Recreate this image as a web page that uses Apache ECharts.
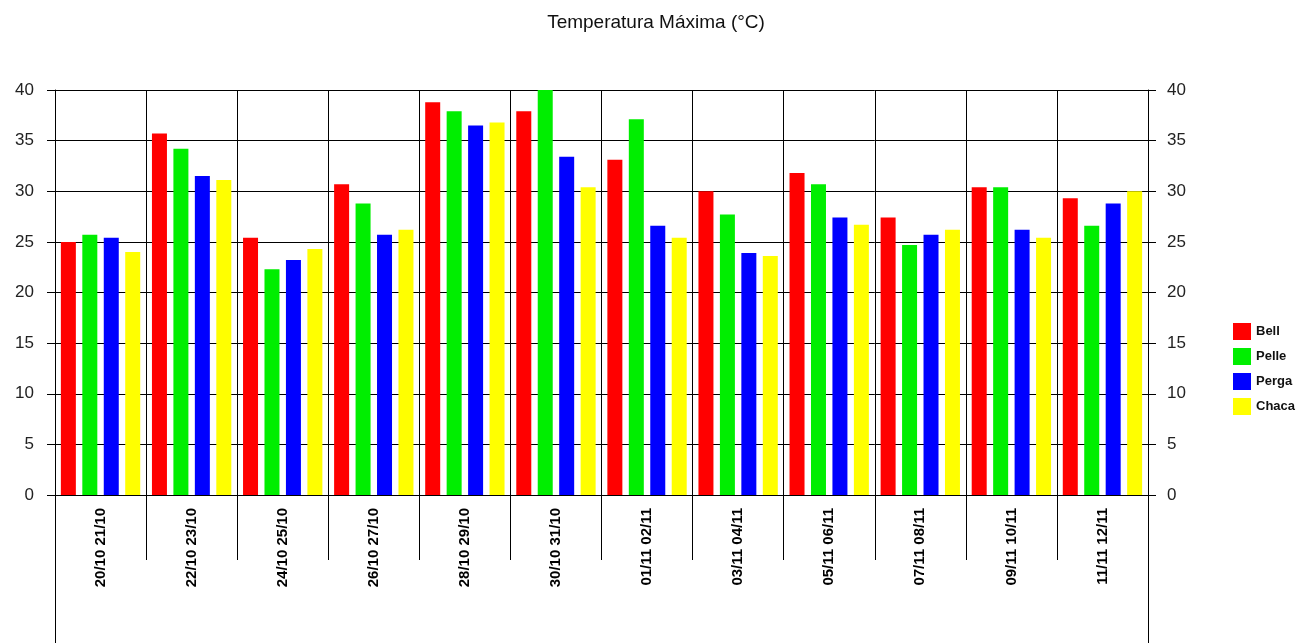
<!DOCTYPE html>
<html>
<head>
<meta charset="utf-8">
<script src="https://cdn.jsdelivr.net/npm/echarts@6/dist/echarts.min.js"></script>
<style>
html,body{margin:0;padding:0;background:#fff;}
#chart{width:1312px;height:643px;}
</style>
</head>
<body>
<div id="chart"></div>
<script>
var categories = ['20/10 21/10','22/10 23/10','24/10 25/10','26/10 27/10','28/10 29/10','30/10 31/10','01/11 02/11','03/11 04/11','05/11 06/11','07/11 08/11','09/11 10/11','11/11 12/11'];
var bell  = [25.0, 35.7, 25.4, 30.7, 38.8, 37.9, 33.1, 30.0, 31.8, 27.4, 30.4, 29.3];
var pelle = [25.7, 34.2, 22.3, 28.8, 37.9, 40.0, 37.1, 27.7, 30.7, 24.7, 30.4, 26.6];
var perga = [25.4, 31.5, 23.2, 25.7, 36.5, 33.4, 26.6, 23.9, 27.4, 25.7, 26.2, 28.8];
var chaca = [24.0, 31.1, 24.3, 26.2, 36.8, 30.4, 25.4, 23.6, 26.7, 26.2, 25.4, 30.0];
var seriesNames = ['Bell','Pelle','Perga','Chaca'];
var yTicks = [0, 40, 5];

var FONT = '"Liberation Sans", Arial, sans-serif';
var chart = echarts.init(document.getElementById('chart'), null, {renderer:'canvas'});
var colors = ['#ff0000','#00ee00','#0000ff','#ffff00'];
var dataSets = [bell, pelle, perga, chaca];

var yCommon = {
  type:'value', min:yTicks[0], max:yTicks[1], interval:yTicks[2], gridIndex:0,
  axisLine:{show:true, lineStyle:{color:'#000', width:1}},
  axisTick:{show:true, length:8, lineStyle:{color:'#000'}},
  axisLabel:{fontSize:17, color:'#222', fontFamily:FONT}
};
var edgeAxis = {
  type:'value', gridIndex:1, min:0, max:1,
  axisLine:{show:true, lineStyle:{color:'#000', width:1}},
  axisTick:{show:false}, axisLabel:{show:false}, splitLine:{show:false}
};

var option = {
  backgroundColor:'#fff',
  animation:false,
  color: colors,
  title:{
    text:'Temperatura Máxima (°C)', left:'center', top:8,
    textStyle:{fontSize:19, fontWeight:'normal', color:'#111', fontFamily:FONT}
  },
  legend:{
    orient:'vertical', left:1228, top:318, itemWidth:18, itemHeight:17, itemGap:8,
    icon:'rect',
    textStyle:{fontSize:13, fontWeight:'bold', color:'#111', fontFamily:FONT},
    data: seriesNames
  },
  grid:[
    {left:55, right:164, top:90, bottom:148, containLabel:false},
    {left:55, right:164, top:495, bottom:0, show:false}
  ],
  xAxis:[
    {
      type:'category', data:categories, gridIndex:0,
      axisLine:{show:true, lineStyle:{color:'#000', width:1}},
      axisTick:{show:true, length:65, lineStyle:{color:'#000'}},
      splitLine:{show:true, lineStyle:{color:'#000', width:1}},
      axisLabel:{rotate:90, fontSize:15, fontWeight:'bold', color:'#000', fontFamily:FONT, margin:13, interval:0}
    },
    {type:'value', gridIndex:1, min:0, max:1, show:false}
  ],
  yAxis:[
    Object.assign({}, yCommon, {position:'left', axisLabel:Object.assign({}, yCommon.axisLabel, {margin:21}), splitLine:{show:true, lineStyle:{color:'#000', width:1}}}),
    Object.assign({}, yCommon, {position:'right', axisLabel:Object.assign({}, yCommon.axisLabel, {margin:19}), splitLine:{show:false}}),
    Object.assign({}, edgeAxis, {position:'left'}),
    Object.assign({}, edgeAxis, {position:'right'})
  ],
  series: seriesNames.map(function(n, i){
    return {
      name:n, type:'bar', xAxisIndex:0, yAxisIndex:0,
      data: dataSets[i], barWidth:15, barGap:'43%',
      itemStyle:{color:colors[i]}
    };
  })
};
chart.setOption(option);
</script>
</body>
</html>
